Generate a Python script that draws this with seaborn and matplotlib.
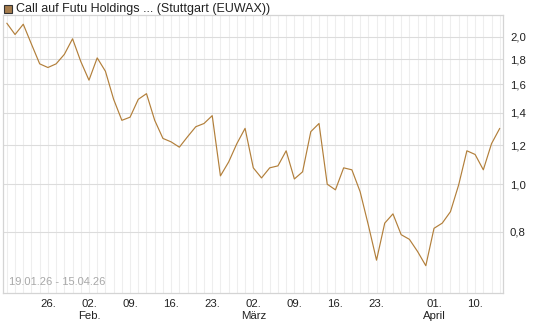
import numpy as np
import pandas as pd
import seaborn as sns
import matplotlib.pyplot as plt
from matplotlib.ticker import FixedLocator, NullFormatter
from matplotlib.patches import Rectangle

# trading days at Stuttgart (Good Friday / Easter Monday closed)
holidays = ["2026-04-03", "2026-04-06"]
dates = [d for d in pd.bdate_range("2026-01-19", "2026-04-15") if d.strftime("%Y-%m-%d") not in holidays]

prices = [2.13, 2.02, 2.12, 1.93, 1.76, 1.73, 1.76, 1.84, 1.98, 1.78,
          1.63, 1.81, 1.70, 1.49, 1.35, 1.37, 1.49, 1.53, 1.35, 1.24,
          1.22, 1.19, 1.25, 1.31, 1.33, 1.38, 1.04, 1.11, 1.21, 1.30,
          1.08, 1.03, 1.08, 1.09, 1.17, 1.025, 1.06, 1.28, 1.33, 1.00,
          0.974, 1.08, 1.07, 0.966, 0.826, 0.70, 0.833, 0.87, 0.789, 0.772,
          0.729, 0.682, 0.813, 0.833, 0.879, 0.997, 1.17, 1.15, 1.07, 1.21,
          1.30]

tick_dates = ["2026-01-26", "2026-02-02", "2026-02-09", "2026-02-16", "2026-02-23",
              "2026-03-02", "2026-03-09", "2026-03-16", "2026-03-23", "2026-04-01", "2026-04-10"]
tick_labels = ["26.", "02.\nFeb.", "09.", "16.", "23.", "02.\nMärz", "09.", "16.", "23.", "01.\nApril", "10."]
y_ticks = [0.8, 1.0, 1.2, 1.4, 1.6, 1.8, 2.0]

title = "Call auf Futu Holdings ... (Stuttgart (EUWAX))"
range_text = "19.01.26 - 15.04.26"

df = pd.DataFrame({"date": dates, "price": prices})
df["idx"] = np.arange(len(df))
date_str = [d.strftime("%Y-%m-%d") for d in df["date"]]
tick_pos = [date_str.index(t) for t in tick_dates]

sns.set_style("white")
plt.rcParams["font.family"] = ["Liberation Sans", "DejaVu Sans"]

line_color = "#b27f3a"
fig = plt.figure(figsize=(5.45, 3.27), dpi=100)
ax = fig.add_axes([0.005, 0.104, 0.918, 0.849])

sns.lineplot(data=df, x="idx", y="price", color=line_color, linewidth=0.85, ax=ax)

ax.set_yscale("log")
ax.set_ylim(0.60, 2.21)
ax.set_xlim(-0.5, 60.4)

ax.yaxis.set_major_locator(FixedLocator(y_ticks))
ax.yaxis.set_minor_locator(FixedLocator([]))
ax.set_yticklabels([f"{v:.1f}".replace(".", ",") for v in y_ticks])
ax.yaxis.set_minor_formatter(NullFormatter())
ax.yaxis.tick_right()
ax.tick_params(axis="y", which="both", length=0, pad=5, labelsize=8.2, labelcolor="#222222")

ax.xaxis.set_major_locator(FixedLocator(tick_pos))
ax.set_xticklabels(tick_labels, linespacing=1.35)
ax.xaxis.set_minor_locator(FixedLocator(df["idx"].tolist()))
ax.tick_params(axis="x", which="major", length=0, pad=4, labelsize=8.2, labelcolor="#222222")
ax.tick_params(axis="x", which="minor", length=2, color="#dddddd", width=0.8)
for lab in ax.get_xticklabels():
    lab.set_verticalalignment("top")

ax.grid(True, which="minor", axis="x", color="#eeeeee", linewidth=0.8)
ax.grid(True, which="major", axis="x", color="#eeeeee", linewidth=0.8)
ax.grid(True, which="major", axis="y", color="#dcdcdc", linewidth=0.8)
ax.set_axisbelow(True)

for s in ax.spines.values():
    s.set_color("#d4d4d4")
    s.set_linewidth(0.9)

ax.set_xlabel("")
ax.set_ylabel("")

ax.text(0.012, 0.02, range_text, transform=ax.transAxes, fontsize=8, color="#a8a8a8",
        ha="left", va="bottom")

# legend-like title
fig.patches.append(Rectangle((4 / 545, 1 - 13 / 327), 8 / 545, 8 / 327, transform=fig.transFigure,
                             facecolor="#a57c4c", edgecolor="#333333", linewidth=0.8))
fig.text(16 / 545, 1 - 9 / 327, title, fontsize=9, color="#222222", ha="left", va="center")

fig.savefig("out.png", dpi=100)
